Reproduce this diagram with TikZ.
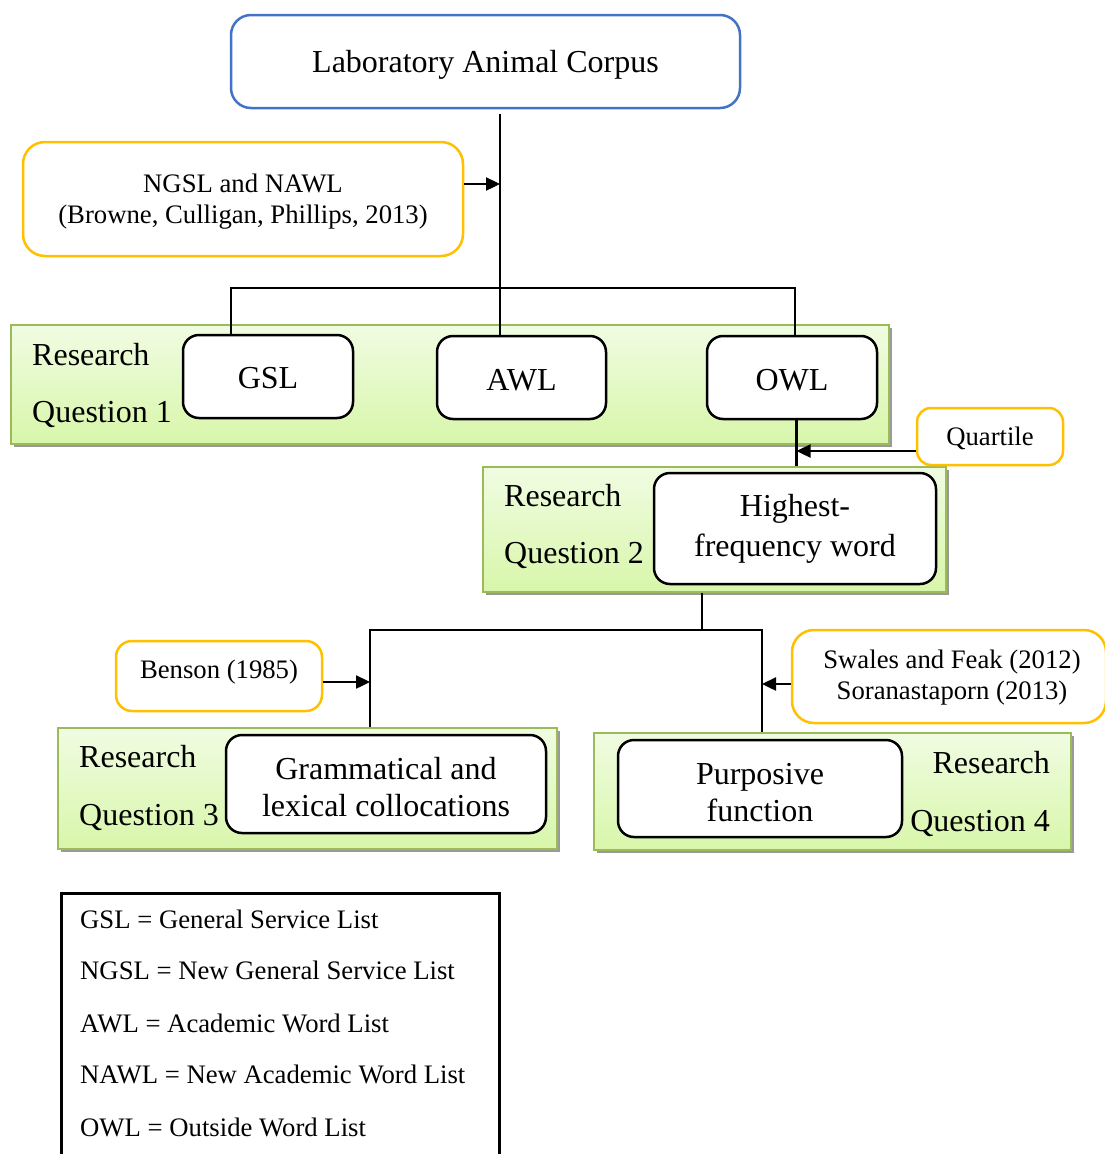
\documentclass[tikz,border=0pt]{standalone}
\usepackage{fontspec}
\setmainfont{Liberation Serif}
\usetikzlibrary{arrows.meta,shadows}

\definecolor{corpusblue}{HTML}{4472C4}
\definecolor{srcorange}{HTML}{FFC000}
\definecolor{rqborder}{HTML}{9BBB59}
\definecolor{rqtop}{RGB}{240,252,226}
\definecolor{rqbottom}{RGB}{216,246,170}

\tikzset{
  bigtext/.style={font=\fontsize{32}{37}\selectfont},
  smalltext/.style={font=\fontsize{26.7}{31}\selectfont},
  corpusbox/.style={draw=corpusblue, line width=2.5pt, rounded corners=20pt,
    inner sep=0pt},
  sourcebox/.style={draw=srcorange, line width=2.5pt, rounded corners=22pt,
    fill=white, inner sep=0pt},
  listbox/.style={draw=black, line width=2.5pt, rounded corners=16pt,
    fill=white, inner sep=0pt},
  bigcaption/.style={inner sep=0pt, align=center, bigtext},
  smallcaption/.style={inner sep=0pt, align=center, smalltext},
  rqpanel/.style={draw=rqborder, line width=2.2pt, inner sep=0pt,
    top color=rqtop, bottom color=rqbottom,
    drop shadow={shadow xshift=3pt, shadow yshift=-3pt, fill=black!40, opacity=1}},
  rqlabel/.style={inner sep=0pt, bigtext},
  link/.style={line width=2.4pt},
  arr/.style={line width=2.4pt, -{Triangle[length=14pt,width=13pt]}},
  legendtext/.style={inner sep=0pt, anchor=base west, smalltext}
}

\begin{document}
\begin{tikzpicture}[x=1pt,y=-1pt]
\clip (0,0) rectangle (1105,1154);
\fill[white] (0,0) rectangle (1105,1154);

% research-question panels
\node[rqpanel, minimum width=878pt, minimum height=119pt] (rq1) at (450,384.5) {};
\node[rqpanel, minimum width=463pt, minimum height=125pt] (rq2) at (714.5,529.5) {};
\node[rqpanel, minimum width=499pt, minimum height=121pt] (rq3) at (307.5,788.5) {};
\node[rqpanel, minimum width=477pt, minimum height=117pt] (rq4) at (832.5,791.5) {};

\node[rqlabel, anchor=base west] (rq1a) at (32,365) {Research};
\node[rqlabel, anchor=base west] (rq1b) at (32,422) {Question 1};
\node[rqlabel, anchor=base west] (rq2a) at (504,506) {Research};
\node[rqlabel, anchor=base west] (rq2b) at (504,563) {Question 2};
\node[rqlabel, anchor=base west] (rq3a) at (79,767) {Research};
\node[rqlabel, anchor=base west] (rq3b) at (79,825) {Question 3};
\node[rqlabel, anchor=base east] (rq4a) at (1050,773) {Research};
\node[rqlabel, anchor=base east] (rq4b) at (1050,831) {Question 4};

% corpus, source and word-list boxes (frames, then their captions)
\node[corpusbox, minimum width=509pt, minimum height=93pt] (corpus) at (485.5,61.5) {};
\node[bigcaption] (corpustext) at ([yshift=-3.5pt]corpus.center) {Laboratory Animal Corpus};

\node[sourcebox, minimum width=440pt, minimum height=114pt] (ngsl) at (243,199) {};
\node[smallcaption] (ngsltext) at ([yshift=-3pt]ngsl.center)
  {NGSL and NAWL\\(Browne, Culligan, Phillips, 2013)};

\node[listbox, minimum width=170pt, minimum height=83pt] (gsl) at (268,376.5) {};
\node[bigcaption] (gsltext) at ([yshift=-2pt]gsl.center) {GSL};
\node[listbox, minimum width=169pt, minimum height=83pt] (awl) at (521.5,377.5) {};
\node[bigcaption] (awltext) at ([yshift=-2.5pt]awl.center) {AWL};
\node[listbox, minimum width=170pt, minimum height=83pt] (owl) at (792,377.5) {};
\node[bigcaption] (owltext) at ([yshift=-2.5pt]owl.center) {OWL};

\node[sourcebox, rounded corners=14pt, minimum width=146pt, minimum height=57pt] (quartile) at (990,436.5) {};
\node[smallcaption] (quartiletext) at ([yshift=-2pt]quartile.center) {Quartile};

\node[listbox, minimum width=282pt, minimum height=111pt] (hfw) at (795,528.5) {};
\node[bigcaption, font=\fontsize{32}{40}\selectfont] (hfwtext) at (hfw.center)
  {Highest-\\frequency word};

\node[sourcebox, rounded corners=16pt, minimum width=206pt, minimum height=70pt] (benson) at (219,676) {};
\node[smallcaption] (bensontext) at ([yshift=4pt]benson.center) {Benson (1985)};

\node[sourcebox, minimum width=314pt, minimum height=93pt] (swales) at (949,676.5) {};
\node[smallcaption] (swalestext) at ([yshift=-1pt,xshift=3pt]swales.center)
  {Swales and Feak (2012)\\Soranastaporn (2013)};

\node[listbox, minimum width=320pt, minimum height=98pt] (gram) at (386,784) {};
\node[bigcaption] (gramtext) at ([yshift=-3.5pt]gram.center)
  {Grammatical and\\lexical collocations};
\node[listbox, minimum width=284pt, minimum height=97pt] (purp) at (760,788.5) {};
\node[bigcaption] (purptext) at ([yshift=-4.5pt]purp.center)
  {Purposive\\function};

% junctions of the connector tree
\coordinate (j1) at (500,288);
\coordinate (j2) at (702,630);
\coordinate (jl) at (370,630);
\coordinate (jr) at (762,630);
\coordinate (owlline) at ([xshift=4.5pt]owl.south);

% connectors
\draw[link] ([yshift=-5pt]corpus.south -| j1) -- (j1);
\draw[arr] ([yshift=15pt]ngsl.east) -- ([yshift=15pt]ngsl.east -| j1);
\draw[link] ([xshift=-37pt]gsl.north) -- ([xshift=-37pt]gsl.north |- j1)
  -- ([xshift=3pt]owl.north |- j1) -- ([xshift=3pt]owl.north);
\draw[link] (j1) -- (j1 |- awl.north);
\draw[link] (owlline) -- (owlline |- rq2.north);
\draw[arr] ([yshift=-14.5pt]quartile.west) -- ([yshift=-14.5pt]quartile.west -| owlline);

\draw[link] (rq2.south -| j2) -- (j2);
\draw[link] (jl |- rq3.north) -- (jl) -- (jr) -- (jr |- rq4.north);
\draw[arr] ([yshift=-6pt]benson.east) -- ([yshift=-6pt]benson.east -| jl);
\draw[arr] ([yshift=-7.5pt]swales.west) -- ([yshift=-7.5pt]swales.west -| jr);

% abbreviation legend
\node[draw, line width=2.5pt, inner sep=0pt, anchor=north west,
  minimum width=438pt, minimum height=290pt] (legend) at (60,892) {};
\node[legendtext] (lg1) at (80,928) {GSL = General Service List};
\node[legendtext] (lg2) at (80,979) {NGSL = New General Service List};
\node[legendtext] (lg3) at (80,1032) {AWL = Academic Word List};
\node[legendtext] (lg4) at (80,1083) {NAWL = New Academic Word List};
\node[legendtext] (lg5) at (80,1136) {OWL = Outside Word List};
\end{tikzpicture}
\end{document}
